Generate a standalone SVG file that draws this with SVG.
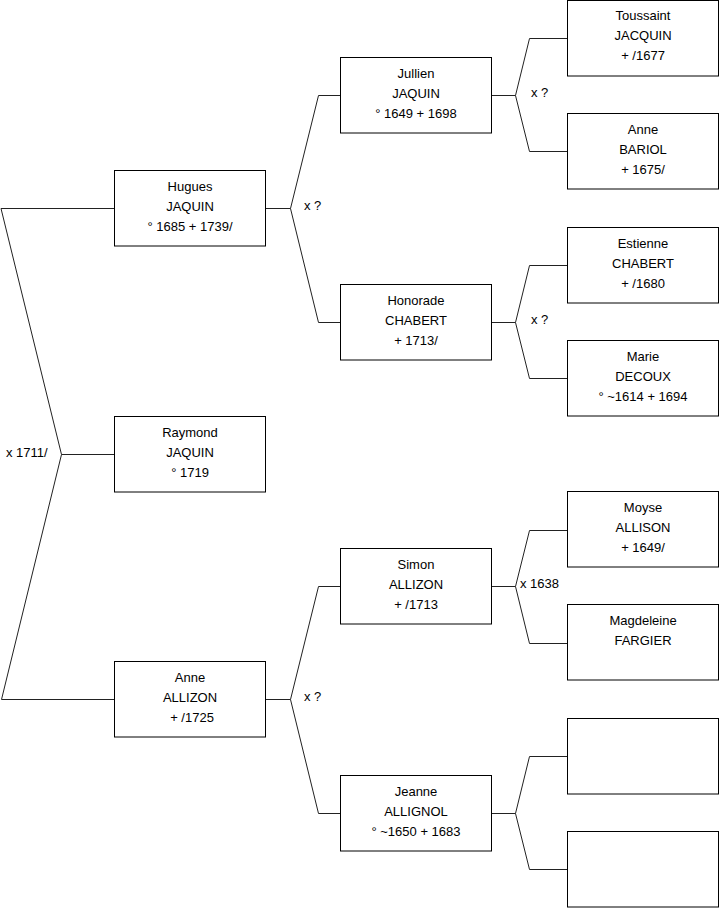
<svg xmlns="http://www.w3.org/2000/svg" width="719" height="908" viewBox="0 0 719 908">
<style>
rect.box{fill:#fff;stroke:#000;stroke-width:1}
text{font-family:"Liberation Sans",Arial,sans-serif;font-size:13px;fill:#000}
text.c{text-anchor:middle}
#connectors path{fill:none;stroke:#222;stroke-width:1}
</style>
<rect width="719" height="908" fill="#fff"/>
<g id="connectors">
<path d="M114,208.5 H1 L61.5,454.5 L1.5,699.5 H114 M61.5,454.5 H114"/>
<path d="M265.5,208.5 H290.5 L318.5,95.5 H340.5 M290.5,208.5 L318.5,322.5 H340.5"/>
<path d="M265.5,699.5 H290.5 L318.5,586.5 H340.5 M290.5,699.5 L318.5,813.5 H340.5"/>
<path d="M491.5,95.5 H515.5 L529.5,38.5 H567.5 M515.5,95.5 L529.5,151.5 H567.5"/>
<path d="M491.5,322.5 H515.5 L529.5,265.5 H567.5 M515.5,322.5 L529.5,378.5 H567.5"/>
<path d="M491.5,586.5 H515.5 L529.5,530.5 H567.5 M515.5,586.5 L529.5,643.5 H567.5"/>
<path d="M491.5,813.5 H515.5 L529.5,756.5 H567.5 M515.5,813.5 L529.5,869.5 H567.5"/>
<text x="6" y="457">x 1711/</text>
<text x="304" y="210">x ?</text>
<text x="304" y="701">x ?</text>
<text x="531" y="97">x ?</text>
<text x="531" y="324">x ?</text>
<text x="520" y="588">x 1638</text>
</g>
<g id="hugues"><rect class="box" x="114.5" y="170.5" width="151" height="75.5"/><text class="c" x="190" y="191">Hugues</text><text class="c" x="190" y="211">JAQUIN</text><text class="c" x="190" y="231">° 1685 + 1739/</text></g>
<g id="raymond"><rect class="box" x="114.5" y="416.5" width="151" height="75.5"/><text class="c" x="190" y="437">Raymond</text><text class="c" x="190" y="457">JAQUIN</text><text class="c" x="190" y="477">° 1719</text></g>
<g id="anne-allizon"><rect class="box" x="114.5" y="661.5" width="151" height="75.5"/><text class="c" x="190" y="682">Anne</text><text class="c" x="190" y="702">ALLIZON</text><text class="c" x="192" y="722">+ /1725</text></g>
<g id="jullien"><rect class="box" x="340.5" y="57.5" width="151" height="75.5"/><text class="c" x="416" y="78">Jullien</text><text class="c" x="416" y="98">JAQUIN</text><text class="c" x="416" y="118">° 1649 + 1698</text></g>
<g id="honorade"><rect class="box" x="340.5" y="284.5" width="151" height="75.5"/><text class="c" x="416" y="305">Honorade</text><text class="c" x="416" y="325">CHABERT</text><text class="c" x="416" y="345">+ 1713/</text></g>
<g id="simon"><rect class="box" x="340.5" y="548.5" width="151" height="75.5"/><text class="c" x="416" y="569">Simon</text><text class="c" x="416" y="589">ALLIZON</text><text class="c" x="416" y="609">+ /1713</text></g>
<g id="jeanne"><rect class="box" x="340.5" y="775.5" width="151" height="75.5"/><text class="c" x="416" y="796">Jeanne</text><text class="c" x="416" y="816">ALLIGNOL</text><text class="c" x="416" y="836">° ~1650 + 1683</text></g>
<g id="toussaint"><rect class="box" x="567.5" y="0.5" width="151" height="75.5"/><text class="c" x="643" y="20">Toussaint</text><text class="c" x="643" y="40">JACQUIN</text><text class="c" x="643" y="60">+ /1677</text></g>
<g id="anne-bariol"><rect class="box" x="567.5" y="113.5" width="151" height="75.5"/><text class="c" x="643" y="134">Anne</text><text class="c" x="643" y="154">BARIOL</text><text class="c" x="643" y="174">+ 1675/</text></g>
<g id="estienne"><rect class="box" x="567.5" y="227.5" width="151" height="75.5"/><text class="c" x="643" y="248">Estienne</text><text class="c" x="643" y="268">CHABERT</text><text class="c" x="643" y="288">+ /1680</text></g>
<g id="marie"><rect class="box" x="567.5" y="340.5" width="151" height="75.5"/><text class="c" x="643" y="361">Marie</text><text class="c" x="643" y="381">DECOUX</text><text class="c" x="643" y="401">° ~1614 + 1694</text></g>
<g id="moyse"><rect class="box" x="567.5" y="491.5" width="151" height="75.5"/><text class="c" x="643" y="512">Moyse</text><text class="c" x="643" y="532">ALLISON</text><text class="c" x="643" y="552">+ 1649/</text></g>
<g id="magdeleine"><rect class="box" x="567.5" y="604.5" width="151" height="75.5"/><text class="c" x="643" y="625">Magdeleine</text><text class="c" x="643" y="645">FARGIER</text></g>
<g id="empty-1"><rect class="box" x="567.5" y="718.5" width="151" height="75.5"/></g>
<g id="empty-2"><rect class="box" x="567.5" y="831.5" width="151" height="75.5"/></g>
</svg>
